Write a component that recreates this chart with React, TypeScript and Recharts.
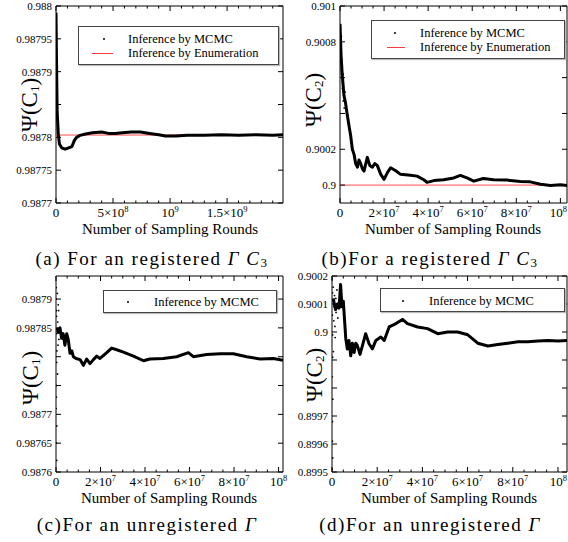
import React from 'react';
import { ComposedChart, Line, Scatter, XAxis, YAxis, Legend, ReferenceArea } from 'recharts';

const SERIF = '"Liberation Serif", "Times New Roman", serif';

// ---------- (a) registered, C1 ----------
const aRounds = [0, 0.5e7, 1e7, 2e7, 3e7, 5e7, 8e7, 1.1e8, 1.4e8, 1.6e8, 1.8e8, 2.1e8, 2.6e8, 3.2e8, 4e8, 4.6e8, 5.2e8, 5.8e8, 6.6e8, 7.4e8, 8.2e8, 9e8, 9.6e8, 1.05e9, 1.15e9, 1.3e9, 1.45e9, 1.6e9, 1.75e9, 1.9e9, 1.99e9];
const aMcmc = [0.98799, 0.98791, 0.98784, 0.987805, 0.98779, 0.987784, 0.987782, 0.987784, 0.987786, 0.987795, 0.9878, 0.987803, 0.987805, 0.987807, 0.987808, 0.987806, 0.987806, 0.987807, 0.987808, 0.987808, 0.987806, 0.987804, 0.987802, 0.987802, 0.987803, 0.987803, 0.987804, 0.987803, 0.987804, 0.987803, 0.987804];
const aEnumeration = 0.9878035;
const aXTicks = [0, 5e8, 1e9, 1.5e9];
const aXTickBase = ['0', '5×10', '10', '1.5×10'];
const aXTickExp = ['', '8', '9', '9'];
const aYTicks = [0.9877, 0.98775, 0.9878, 0.98785, 0.9879, 0.98795, 0.988];
const aYTickLabels = ['0.9877', '0.98775', '0.9878', '', '0.9879', '0.98795', '0.988'];

// ---------- (b) registered, C2 ----------
const bRounds = [0, 0.5e6, 1e6, 1.8e6, 2.5e6, 3.2e6, 4.1e6, 4.8e6, 5.6e6, 6.4e6, 7.1e6, 7.9e6, 8.6e6, 9.4e6, 1.02e7, 1.09e7, 1.17e7, 1.24e7, 1.35e7, 1.47e7, 1.58e7, 1.69e7, 1.85e7, 2.0e7, 2.15e7, 2.3e7, 2.53e7, 2.75e7, 3.2e7, 3.5e7, 3.8e7, 3.95e7, 4.26e7, 4.7e7, 5.16e7, 5.46e7, 5.76e7, 6.07e7, 6.5e7, 6.97e7, 7.58e7, 8.18e7, 8.63e7, 9.1e7, 9.55e7, 1.0e8, 1.03e8];
const bMcmc = [0.9009, 0.90072, 0.90062, 0.9005, 0.90046, 0.9004, 0.90033, 0.90028, 0.9002, 0.90017, 0.90012, 0.9001, 0.90014, 0.90012, 0.90009, 0.900078, 0.90012, 0.900155, 0.90011, 0.9001, 0.90012, 0.90011, 0.90006, 0.900032, 0.90007, 0.900097, 0.90008, 0.90006, 0.900055, 0.90005, 0.90003, 0.900015, 0.900025, 0.90003, 0.90004, 0.900054, 0.90004, 0.900022, 0.900037, 0.90003, 0.900028, 0.90002, 0.900018, 0.900005, 0.899998, 0.900002, 0.899998];
const bEarlyRounds = [0.2e6, 0.4e6, 0.6e6, 0.8e6, 1.0e6, 1.2e6, 1.4e6, 1.6e6, 2.0e6, 2.3e6, 0.3e6, 0.7e6, 1.1e6, 1.5e6, 1.9e6];
const bEarlyValues = [0.90088, 0.9008, 0.90083, 0.9007, 0.90066, 0.90058, 0.90062, 0.90055, 0.90049, 0.90052, 0.90076, 0.90064, 0.90054, 0.90047, 0.90043];
const bEnumeration = 0.9;
const bYTicks = [0.9, 0.9002, 0.9004, 0.9006, 0.9008, 0.901];
const bYTickLabels = ['0.9', '0.9002', '', '', '0.9008', '0.901'];

// ---------- (c) unregistered, C1 ----------
const cRounds = [0.5e6, 1e6, 1.8e6, 2.5e6, 3.2e6, 4e6, 4.8e6, 5.5e6, 6.3e6, 7.1e6, 7.8e6, 9e6, 1.08e7, 1.23e7, 1.38e7, 1.53e7, 1.68e7, 1.83e7, 1.98e7, 2.28e7, 2.5e7, 2.73e7, 3.03e7, 3.48e7, 3.93e7, 4.22e7, 4.82e7, 5.42e7, 5.95e7, 6.17e7, 6.77e7, 7.37e7, 7.97e7, 8.57e7, 9.17e7, 9.77e7, 1.02e8];
const cMcmc = [0.98785, 0.987842, 0.98785, 0.987832, 0.98784, 0.98782, 0.98784, 0.98783, 0.987806, 0.98781, 0.9878, 0.987797, 0.987795, 0.987785, 0.987796, 0.987788, 0.987795, 0.987801, 0.987797, 0.987807, 0.987815, 0.987812, 0.987808, 0.987801, 0.987793, 0.987796, 0.987797, 0.9878, 0.987807, 0.9878, 0.987804, 0.987805, 0.987805, 0.9878, 0.987796, 0.987797, 0.987794];
const cEarlyRounds = [0.1e6, 0.2e6, 0.15e6, 0.3e6, 0.25e6, 0.1e6, 0.35e6, 0.2e6, 0.3e6, 0.15e6, 0.4e6, 0.25e6, 0.1e6, 0.6e6, 0.8e6, 1.0e6, 1.3e6, 0.7e6, 0.9e6, 1.2e6];
const cEarlyValues = [0.98792, 0.98788, 0.98784, 0.98779, 0.98775, 0.98771, 0.98768, 0.98765, 0.98762, 0.98773, 0.98781, 0.98787, 0.9879, 0.98791, 0.98786, 0.98789, 0.98783, 0.98777, 0.98782, 0.98788];
const cYTicks = [0.9876, 0.98765, 0.9877, 0.98775, 0.9878, 0.98785, 0.9879];
const cYTickLabels = ['0.9876', '0.98765', '0.9877', '', '', '0.98785', '0.9879'];

// ---------- (d) unregistered, C2 ----------
const dRounds = [0.5e6, 1.6e6, 2.4e6, 3.1e6, 3.8e6, 4.4e6, 5.0e6, 6.1e6, 6.8e6, 7.5e6, 8.3e6, 9.0e6, 9.8e6, 1.05e7, 1.12e7, 1.24e7, 1.35e7, 1.49e7, 1.64e7, 1.79e7, 1.94e7, 2.16e7, 2.31e7, 2.53e7, 2.83e7, 3.12e7, 3.34e7, 3.79e7, 4.23e7, 4.68e7, 5.12e7, 5.56e7, 6.01e7, 6.45e7, 6.9e7, 7.34e7, 7.78e7, 8.23e7, 8.67e7, 9.12e7, 9.56e7, 1.0e8, 1.04e8];
const dMcmc = [0.90012, 0.90008, 0.9001, 0.900085, 0.90017, 0.90009, 0.90011, 0.899976, 0.899939, 0.89997, 0.899915, 0.89996, 0.899927, 0.89996, 0.899952, 0.89992, 0.899952, 0.899994, 0.899958, 0.89994, 0.89997, 0.899982, 0.89997, 0.900018, 0.90003, 0.900045, 0.90003, 0.900018, 0.900012, 0.899994, 0.9, 0.9, 0.89999, 0.89996, 0.89995, 0.899955, 0.89996, 0.899965, 0.899965, 0.899968, 0.89997, 0.899968, 0.89997];
const dEarlyRounds = [0.1e6, 0.2e6, 0.15e6, 0.3e6, 0.25e6, 0.1e6, 0.35e6, 0.2e6, 0.15e6, 0.3e6, 0.1e6, 0.5e6, 0.8e6, 1.1e6, 1.4e6, 1.8e6, 2.2e6, 0.6e6, 0.9e6, 1.3e6, 1.7e6, 2.6e6];
const dEarlyValues = [0.90019, 0.90014, 0.90006, 0.89999, 0.89991, 0.89984, 0.89976, 0.89968, 0.89961, 0.89955, 0.89951, 0.90016, 0.90004, 0.90013, 0.89998, 0.90007, 0.90015, 0.89993, 0.90009, 0.90002, 0.90012, 0.90005];
const dYTicks = [0.8995, 0.8996, 0.8997, 0.8998, 0.8999, 0.9, 0.9001, 0.9002];
const dYTickLabels = ['0.8995', '0.8996', '0.8997', '', '', '0.9', '0.9001', '0.9002'];

// shared x ticks for (b), (c), (d)
const e7XTicks = [0, 2e7, 4e7, 6e7, 8e7, 1e8];
const e7XTickBase = ['0', '2×10', '4×10', '6×10', '8×10', '10'];
const e7XTickExp = ['', '7', '7', '7', '7', '8'];

const LEGEND_MCMC = 'Inference by MCMC';
const LEGEND_ENUM = 'Inference by Enumeration';
const X_TITLE = 'Number of Sampling Rounds';

type Pt = { x: number; y: number };
const zip = (xs: number[], ys: number[]): Pt[] => xs.map((x, i) => ({ x, y: ys[i] }));

type Box = { l: number; t: number; r: number; b: number };
type LegendCfg = { left: number; top: number; width: number; height: number; rows: { kind: 'dot' | 'line'; label: string; y: number }[]; symX: number; lineX1: number; lineX2: number; textX: number };

type PanelProps = {
  left: number; top: number; width: number; height: number; box: Box;
  xDomain: [number, number]; yDomain: [number, number];
  xTicks: number[]; xTickBase: string[]; xTickExp: string[]; xMinorStep: number;
  yTicks: number[]; yTickLabels: string[];
  mcmc: Pt[]; early?: Pt[]; enumeration?: Pt[]; legend: LegendCfg;
};

const near = (a: number, b: number) => Math.abs(a - b) <= 1e-7 * Math.max(1, Math.abs(a), Math.abs(b));

function Panel(p: PanelProps) {
  const { box } = p;
  const minor: number[] = [];
  for (let k = 0; k * p.xMinorStep <= p.xDomain[1] * (1 + 1e-9); k++) minor.push(k * p.xMinorStep);

  const xTick = (props: any) => {
    const x = props.x;
    const v = props.payload.value;
    const idx = p.xTicks.findIndex((m) => near(m, v));
    const len = idx >= 0 ? 5 : 2.5;
    const atEdge = x + 11 > p.width - 1;
    return (
      <g>
        <line x1={x} y1={box.b} x2={x} y2={box.b - len} stroke="#000" strokeWidth={1} />
        <line x1={x} y1={box.t} x2={x} y2={box.t + len} stroke="#000" strokeWidth={1} />
        {idx >= 0 && (
          <text x={atEdge ? p.width - 1 : x} y={box.b + 14} textAnchor={atEdge ? 'end' : 'middle'} fontFamily={SERIF} fontSize={13} fill="#000">
            {p.xTickBase[idx]}
            {p.xTickExp[idx] && (
              <tspan dy={-5} fontSize={8.5}>{p.xTickExp[idx]}</tspan>
            )}
          </text>
        )}
      </g>
    );
  };

  const yTick = (props: any) => {
    const y = props.y;
    const v = props.payload.value;
    const idx = p.yTicks.findIndex((m) => near(m, v));
    return (
      <g>
        <line x1={box.l} y1={y} x2={box.l + 5} y2={y} stroke="#000" strokeWidth={1} />
        <line x1={box.r} y1={y} x2={box.r - 5} y2={y} stroke="#000" strokeWidth={1} />
        <text x={box.l - 4} y={y} dy={4} textAnchor="end" fontFamily={SERIF} fontSize={11} fill="#000">
          {idx >= 0 ? p.yTickLabels[idx] : ''}
        </text>
      </g>
    );
  };

  const lg = p.legend;
  const legendContent = () => (
    <div style={{ position: 'relative', boxSizing: 'border-box', width: lg.width, height: lg.height, border: '1px solid #444', background: '#fff', fontFamily: SERIF, fontSize: 12.5, color: '#000', boxShadow: '1px 1px 1px #bbb' }}>
      {lg.rows.map((r, i) => (
        <div key={i}>
          {r.kind === 'dot' ? (
            <div style={{ position: 'absolute', left: lg.symX - 1, top: r.y - 1, width: 2, height: 2, background: '#000', borderRadius: 1 }} />
          ) : (
            <div style={{ position: 'absolute', left: lg.lineX1, top: r.y - 0.5, width: lg.lineX2 - lg.lineX1, height: 1.2, background: '#ff3b3b' }} />
          )}
          <div style={{ position: 'absolute', left: lg.textX, top: r.y - 6, height: 12, lineHeight: '12px', whiteSpace: 'nowrap' }}>{r.label}</div>
        </div>
      ))}
    </div>
  );

  const dotShape = (s: any) => <circle cx={s.cx} cy={s.cy} r={0.9} fill="#000" />;

  return (
    <div style={{ position: 'absolute', left: p.left, top: p.top, width: p.width, height: p.height }}>
      <ComposedChart width={p.width} height={p.height} margin={{ top: box.t, right: p.width - box.r, bottom: 0, left: 0 }}>
        <XAxis type="number" dataKey="x" domain={p.xDomain} allowDataOverflow ticks={minor} interval={0} tickLine={false} axisLine={false} tickSize={0} tickMargin={0} height={p.height - box.b} tick={xTick} />
        <YAxis type="number" dataKey="y" domain={p.yDomain} allowDataOverflow ticks={p.yTicks} interval={0} tickLine={false} axisLine={false} tickSize={0} tickMargin={0} width={box.l} tick={yTick} />
        <ReferenceArea x1={p.xDomain[0]} x2={p.xDomain[1]} y1={p.yDomain[0]} y2={p.yDomain[1]} fill="none" fillOpacity={0} stroke="#000" strokeWidth={1} ifOverflow="visible" />
        {p.enumeration && (
          <Line data={p.enumeration} dataKey="y" stroke="#ff4d4d" strokeWidth={1} dot={false} isAnimationActive={false} legendType="line" name={LEGEND_ENUM} />
        )}
        {p.early && (
          <Scatter data={p.early} dataKey="y" fill="#000" shape={dotShape} isAnimationActive={false} legendType="none" />
        )}
        <Line data={p.mcmc} dataKey="y" stroke="#000" strokeWidth={3} strokeLinejoin="round" dot={false} isAnimationActive={false} name={LEGEND_MCMC} />
        <Legend content={legendContent} layout="horizontal" verticalAlign="middle" align="center" wrapperStyle={{ left: lg.left, top: lg.top, width: lg.width, height: lg.height }} />
      </ComposedChart>
    </div>
  );
}

function Psi({ cx, cy, sub }: { cx: number; cy: number; sub: string }) {
  return (
    <text x={cx} y={cy} transform={`rotate(-90 ${cx} ${cy})`} textAnchor="middle" dominantBaseline="central" fontFamily={SERIF} fontSize={23} fill="#000">
      Ψ(C<tspan fontSize={13} dy={5}>{sub}</tspan><tspan dy={-5}>)</tspan>
    </text>
  );
}

function Caption({ x, y, lead, sub }: { x: number; y: number; lead: string; sub?: string }) {
  return (
    <text x={x} y={y} textAnchor="middle" dominantBaseline="central" fontFamily={SERIF} fontSize={19} letterSpacing={1.5} fill="#000">
      {lead}
      <tspan fontStyle="italic">Γ</tspan>
      {sub && (
        <>
          <tspan fontStyle="italic"> C</tspan>
          <tspan fontSize={13} dy={4}>{sub}</tspan>
        </>
      )}
    </text>
  );
}

export default function App() {
  return (
    <div style={{ position: 'absolute', left: 0, top: 0, width: 568, height: 542, background: '#fff', overflow: 'hidden' }}>
      <Panel
        left={0} top={0} width={292} height={240} box={{ l: 56, t: 6, r: 283, b: 203 }}
        xDomain={[0, 1.99e9]} yDomain={[0.9877, 0.988]}
        xTicks={aXTicks} xTickBase={aXTickBase} xTickExp={aXTickExp} xMinorStep={1e8}
        yTicks={aYTicks} yTickLabels={aYTickLabels}
        mcmc={zip(aRounds, aMcmc)}
        enumeration={zip([0, 1.99e9], [aEnumeration, aEnumeration])}
        legend={{ left: 78, top: 26, width: 201, height: 39, symX: 25, lineX1: 13, lineX2: 34, textX: 49, rows: [{ kind: 'dot', label: LEGEND_MCMC, y: 12 }, { kind: 'line', label: LEGEND_ENUM, y: 26 }] }}
      />
      <Panel
        left={284} top={0} width={284} height={240} box={{ l: 56, t: 6, r: 283, b: 203 }}
        xDomain={[0, 1.03e8]} yDomain={[0.8999, 0.901]}
        xTicks={e7XTicks} xTickBase={e7XTickBase} xTickExp={e7XTickExp} xMinorStep={5e6}
        yTicks={bYTicks} yTickLabels={bYTickLabels}
        mcmc={zip(bRounds, bMcmc)} early={zip(bEarlyRounds, bEarlyValues)}
        enumeration={zip([0, 1.03e8], [bEnumeration, bEnumeration])}
        legend={{ left: 87, top: 20, width: 194, height: 39, symX: 23, lineX1: 15, lineX2: 33, textX: 48, rows: [{ kind: 'dot', label: LEGEND_MCMC, y: 12 }, { kind: 'line', label: LEGEND_ENUM, y: 26 }] }}
      />
      <Panel
        left={0} top={270} width={292} height={240} box={{ l: 56, t: 6, r: 283, b: 202 }}
        xDomain={[0, 1.02e8]} yDomain={[0.9876, 0.98794]}
        xTicks={e7XTicks} xTickBase={e7XTickBase} xTickExp={e7XTickExp} xMinorStep={5e6}
        yTicks={cYTicks} yTickLabels={cYTickLabels}
        mcmc={zip(cRounds, cMcmc)} early={zip(cEarlyRounds, cEarlyValues)}
        legend={{ left: 103, top: 20, width: 174, height: 23, symX: 24, lineX1: 0, lineX2: 0, textX: 50, rows: [{ kind: 'dot', label: LEGEND_MCMC, y: 11 }] }}
      />
      <Panel
        left={284} top={270} width={284} height={240} box={{ l: 48, t: 6, r: 283, b: 202 }}
        xDomain={[0, 1.04e8]} yDomain={[0.8995, 0.9002]}
        xTicks={e7XTicks} xTickBase={e7XTickBase} xTickExp={e7XTickExp} xMinorStep={5e6}
        yTicks={dYTicks} yTickLabels={dYTickLabels}
        mcmc={zip(dRounds, dMcmc)} early={zip(dEarlyRounds, dEarlyValues)}
        legend={{ left: 96, top: 18, width: 185, height: 24, symX: 22, lineX1: 0, lineX2: 0, textX: 48, rows: [{ kind: 'dot', label: LEGEND_MCMC, y: 12 }] }}
      />
      <svg width={568} height={542} style={{ position: 'absolute', left: 0, top: 0, pointerEvents: 'none' }}>
        <Psi cx={29} cy={105} sub="1" />
        <Psi cx={313} cy={100} sub="2" />
        <Psi cx={30} cy={378} sub="1" />
        <Psi cx={314} cy={375} sub="2" />
        <text x={170} y={229} textAnchor="middle" dominantBaseline="central" fontFamily={SERIF} fontSize={15}>{X_TITLE}</text>
        <text x={453} y={229} textAnchor="middle" dominantBaseline="central" fontFamily={SERIF} fontSize={15}>{X_TITLE}</text>
        <text x={169} y={498} textAnchor="middle" dominantBaseline="central" fontFamily={SERIF} fontSize={15}>{X_TITLE}</text>
        <text x={449} y={498} textAnchor="middle" dominantBaseline="central" fontFamily={SERIF} fontSize={15}>{X_TITLE}</text>
        <Caption x={152} y={258} lead="(a) For an registered " sub="3" />
        <Caption x={430} y={258} lead="(b)For a registered " sub="3" />
        <Caption x={147} y={524} lead="(c)For an unregistered " />
        <Caption x={430} y={524} lead="(d)For an unregistered " />
      </svg>
    </div>
  );
}
